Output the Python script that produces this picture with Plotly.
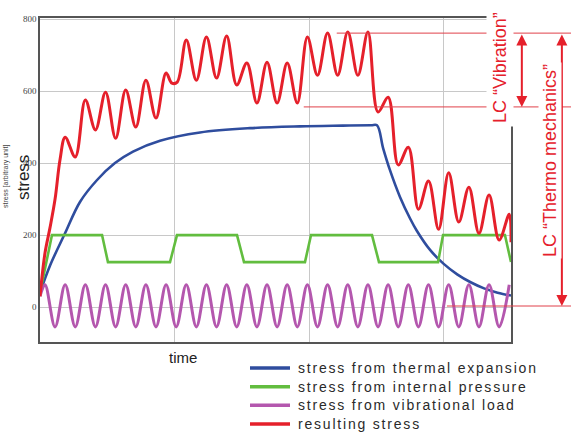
import plotly.graph_objects as go

# ---- data (time in arbitrary units 0..35, stress in arbitrary units) ----
thermal_t = [0, 0.74, 1.86, 2.97, 4.24, 5.57, 6.91, 8.92, 11.89, 15.6, 19.3, 22.5, 24.6, 25.04,
             25.5, 26.0, 26.75, 27.5, 28.0, 29.0, 30.0, 31.0, 32.0, 33.0, 34.0, 35.0]
thermal_v = [40, 115, 205, 292, 353, 400, 432, 462, 485, 497, 502, 504, 505, 505,
             441, 381, 306, 246, 212, 158, 120, 91, 69, 52, 40, 32]

pressure_t = [0, 0.89, 4.61, 5.05, 9.66, 10.18, 14.64, 15.16, 19.69, 20.14, 24.67, 25.19, 29.58, 29.95, 34.55, 35.0]
pressure_v = [40, 200, 200, 125, 125, 200, 200, 125, 125, 200, 200, 125, 125, 200, 200, 125]

vib_t = [0, 0.37, 1.12, 1.87, 2.62, 3.37, 4.12, 4.87, 5.62, 6.37, 7.12, 7.87, 8.62, 9.37, 10.12,
         10.87, 11.62, 12.37, 13.12, 13.87, 14.62, 15.37, 16.12, 16.87, 17.62, 18.37, 19.12,
         19.87, 20.62, 21.37, 22.12, 22.87, 23.62, 24.37, 25.12, 25.87, 26.62, 27.37, 28.12,
         28.87, 29.62, 30.37, 31.12, 31.87, 32.62, 33.37, 34.12, 34.87]
vib_v = [30, 62, -55, 62, -55, 62, -55, 62, -55, 62, -55, 62, -55, 62, -55,
         62, -55, 62, -55, 62, -55, 62, -55, 62, -55, 62, -55,
         62, -55, 62, -55, 62, -55, 62, -55, 62, -55, 62, -55,
         62, -55, 62, -55, 62, -55, 62, -55, 62]

res_t = [0, 0.37, 0.74, 1.12, 1.49, 1.87, 2.62, 3.37, 4.12, 4.87, 5.62, 6.37, 7.12, 7.87, 8.62,
         9.37, 9.8, 10.2, 10.87, 11.62, 12.37, 13.12, 13.87, 14.62, 15.37, 16.12, 16.87, 17.62,
         18.37, 19.12, 19.87, 20.62, 21.37, 22.12, 22.87, 23.62, 24.37, 25.12, 25.87, 26.62,
         27.37, 28.12, 28.87, 29.62, 30.37, 31.12, 31.87, 32.62, 33.37, 34.12, 34.87, 35.0]
res_v = [30, 150, 220, 300, 410, 472, 417, 575, 492, 597, 469, 603, 500, 630, 525,
         650, 622, 625, 742, 630, 750, 636, 753, 617, 678, 567, 680, 567,
         678, 567, 750, 644, 761, 644, 764, 644, 764, 542, 583, 395,
         444, 272, 350, 216, 373, 236, 333, 205, 311, 186, 258, 180]

y_ticks = [0, 200, 400, 600, 800]
y_ticklabels = ["0", "200", "400", "600", "800"]

lc_vib_top, lc_vib_bottom, lc_thermo_bottom = 761, 556, 3

names = ["stress from thermal expansion", "stress from internal pressure",
         "stress from vibrational load", "resulting stress"]
colors = ["#2f4d9e", "#62bd3f", "#b457ae", "#e5202b"]
RED_LINE = "#e0404a"

fig = go.Figure()
fig.add_trace(go.Scatter(x=thermal_t, y=thermal_v, mode="lines", name=names[0],
                         line=dict(color=colors[0], width=2.6, shape="spline", smoothing=1.0)))
fig.add_trace(go.Scatter(x=pressure_t, y=pressure_v, mode="lines", name=names[1],
                         line=dict(color=colors[1], width=2.6)))
fig.add_trace(go.Scatter(x=vib_t, y=vib_v, mode="lines", name=names[2],
                         line=dict(color=colors[2], width=3, shape="spline")))
fig.add_trace(go.Scatter(x=res_t, y=res_v, mode="lines", name=names[3],
                         line=dict(color=colors[3], width=3, shape="spline")))

# horizontal reference lines
for y0, xs in [(lc_vib_top, 0.63), (lc_vib_bottom, 0.56), (lc_thermo_bottom, 0.864)]:
    fig.add_shape(type="line", xref="paper", yref="y", x0=xs, x1=1.14, y0=y0, y1=y0,
                  line=dict(color=RED_LINE, width=1), layer="above")

# double arrows
for xp, ytop, ybot in [(1.023, lc_vib_top, lc_vib_bottom), (1.108, lc_vib_top, lc_thermo_bottom)]:
    fig.add_annotation(x=xp, y=ybot, xref="paper", yref="y", ax=0, ay=ytop,
                       axref="pixel", ayref="y", showarrow=True, arrowhead=2,
                       arrowside="end+start", arrowsize=1.1, arrowwidth=2,
                       arrowcolor="#e5202b", text="")

fig.add_annotation(text="LC \u201cVibration\u201d", xref="paper", yref="paper",
                   x=(500 - 40) / 471, y=(342 - 68) / 324, textangle=-90, showarrow=False,
                   xanchor="center", yanchor="middle",
                   font=dict(family="Liberation Sans, Arial", size=18, color="#e5202b"),
                   bgcolor="white", borderpad=3)
fig.add_annotation(text="LC \u201cThermo mechanics\u201d", xref="paper", yref="paper",
                   x=(550 - 40) / 471, y=(342 - 161) / 324, textangle=-90, showarrow=False,
                   xanchor="center", yanchor="middle",
                   font=dict(family="Liberation Sans, Arial", size=18, color="#e5202b"),
                   bgcolor="white", borderpad=1)

fig.add_annotation(text="stress", xref="paper", yref="paper", x=(23 - 40) / 471,
                   y=(342 - 178) / 324, textangle=-90, showarrow=False,
                   xanchor="center", yanchor="middle",
                   font=dict(family="Liberation Sans, Arial", size=17, color="#222"))
fig.add_annotation(text="stress [arbitrary unit]", xref="paper", yref="paper",
                   x=(6 - 40) / 471, y=(342 - 177) / 324, textangle=-90, showarrow=False,
                   xanchor="center", yanchor="middle",
                   font=dict(family="Liberation Sans, Arial", size=7, color="#444"))
fig.add_annotation(text="time", xref="paper", yref="paper", x=(183 - 40) / 471,
                   y=(342 - 357) / 324, showarrow=False, xanchor="center", yanchor="middle",
                   font=dict(family="Liberation Sans, Arial", size=15, color="#222"))

# legend (drawn manually for exact spacing)
legend_rows_px = [368, 386.7, 405.3, 424]
for name, col, ypx in zip(names, colors, legend_rows_px):
    yp = (342 - ypx) / 324
    fig.add_shape(type="line", xref="paper", yref="paper",
                  x0=(250 - 40) / 471, x1=(290 - 40) / 471, y0=yp, y1=yp,
                  line=dict(color=col, width=3.5))
    fig.add_annotation(text='<span style="letter-spacing:1.8px">' + name + "</span>",
                       xref="paper", yref="paper", x=(296 - 40) / 471, y=yp,
                       xanchor="left", yanchor="middle", showarrow=False,
                       font=dict(family="Liberation Sans, Arial", size=14, color="#2a2a2a"))

fig.update_layout(
    width=571, height=432,
    margin=dict(l=40, r=60, t=18, b=90, autoexpand=False),
    paper_bgcolor="white", plot_bgcolor="white",
    showlegend=False,
    xaxis=dict(range=[0, 35], dtick=10, tick0=0, showticklabels=False, ticks="",
               showgrid=True, gridcolor="#c8c8c8", gridwidth=1, zeroline=False,
               showline=True, linecolor="#555", linewidth=1.5, mirror=True),
    yaxis=dict(range=[-97, 803], tickvals=y_ticks, ticktext=y_ticklabels, ticks="",
               showgrid=True, gridcolor="#c8c8c8", gridwidth=1, zeroline=False,
               showline=True, linecolor="#555", linewidth=1.5, mirror=True,
               tickfont=dict(family="Liberation Serif, serif", size=9, color="#444")),
)

fig.write_html("out.html")
